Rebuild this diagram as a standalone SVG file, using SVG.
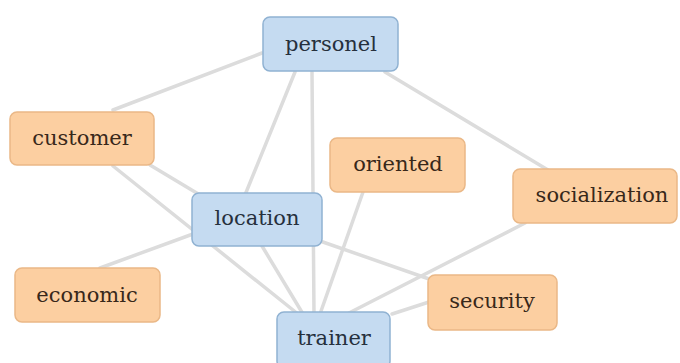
<svg xmlns="http://www.w3.org/2000/svg" width="680" height="363" viewBox="0 0 680 363">
<style>
.e{stroke:#dcdcdc;stroke-width:3.5;stroke-linecap:round;fill:none}
.b rect{fill:#c5dbf1;stroke:#90b2d2;stroke-width:1.5}
.o rect{fill:#fccfa1;stroke:#eab887;stroke-width:1.5}
text{font-family:"DejaVu Serif","Liberation Serif",serif;font-size:21px;text-anchor:middle;dominant-baseline:central}
.b text{fill:#26303d}
.o text{fill:#38281a}
</style>
<rect width="680" height="363" fill="#ffffff"/>
<g id="connectors">
<line class="e" x1="113" y1="110" x2="262" y2="53"/>
<line class="e" x1="295" y1="72" x2="245" y2="195"/>
<line class="e" x1="312" y1="72" x2="314" y2="314"/>
<line class="e" x1="385" y1="72" x2="548" y2="170"/>
<line class="e" x1="150" y1="165" x2="200" y2="195"/>
<line class="e" x1="113" y1="166" x2="298" y2="314"/>
<line class="e" x1="100" y1="268" x2="193" y2="234"/>
<line class="e" x1="262" y1="246" x2="303" y2="314"/>
<line class="e" x1="363" y1="192" x2="320" y2="314"/>
<line class="e" x1="320" y1="241" x2="432" y2="280"/>
<line class="e" x1="525" y1="223" x2="347" y2="314"/>
<line class="e" x1="429" y1="302" x2="392" y2="314"/>
</g>
<g id="personel" class="b"><rect x="263" y="17" width="135" height="54" rx="7"/><text x="331" y="44">personel</text></g>
<g id="customer" class="o"><rect x="10" y="112" width="144" height="53" rx="7"/><text x="82" y="138">customer</text></g>
<g id="location" class="b"><rect x="192" y="193" width="130" height="53" rx="7"/><text x="257" y="218">location</text></g>
<g id="oriented" class="o"><rect x="330" y="138" width="135" height="54" rx="7"/><text x="398" y="164">oriented</text></g>
<g id="socialization" class="o"><rect x="513" y="169" width="164" height="54" rx="7"/><text x="602" y="195">socialization</text></g>
<g id="economic" class="o"><rect x="15" y="268" width="145" height="54" rx="7"/><text x="87" y="295">economic</text></g>
<g id="security" class="o"><rect x="428" y="275" width="129" height="55" rx="7"/><text x="492" y="301">security</text></g>
<g id="trainer" class="b"><rect x="277" y="312" width="113" height="56" rx="7"/><text x="334" y="338">trainer</text></g>
</svg>
